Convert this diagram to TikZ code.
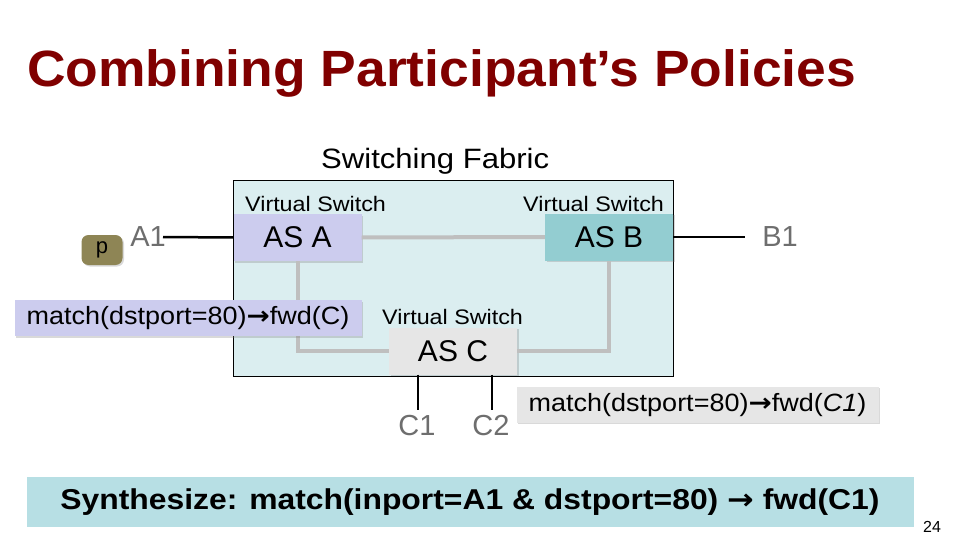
\documentclass[tikz,border=0pt]{standalone}
\usepackage{fontspec}
\setmainfont{Liberation Sans}
\newfontfamily\widefont{Liberation Sans}[FakeStretch=1.11]
\newfontfamily\rulefont{Liberation Sans}[FakeStretch=1.08]
\newfontfamily\titlefont{Liberation Sans}[FakeStretch=1.047]
\newfontfamily\arrowfont{DejaVu Sans}[FakeStretch=1.11]
\usetikzlibrary{shadows}
\definecolor{titlered}{RGB}{128,0,0}
\definecolor{fabricfill}{RGB}{219,238,240}
\definecolor{asafill}{RGB}{204,204,238}
\definecolor{asbfill}{RGB}{147,205,209}
\definecolor{ascfill}{RGB}{230,230,230}
\definecolor{pfill}{RGB}{142,133,85}
\definecolor{synthfill}{RGB}{183,223,228}
\definecolor{linkgray}{RGB}{191,191,191}
\definecolor{portgray}{RGB}{110,110,110}
\newcommand{\fsz}[1]{\fontsize{#1}{#1}\selectfont}
\newcommand{\rarr}{{\arrowfont\bfseries →}}
\begin{document}
\begin{tikzpicture}[x=1pt,y=-1pt,
  swbox/.style={minimum width=128pt, minimum height=47pt, inner sep=0pt, font=\fsz{30}, drop shadow={shadow xshift=1.5pt, shadow yshift=-1.5pt, opacity=0.3}},
  rulebox/.style={minimum height=36pt, inner sep=0pt, font=\rulefont\fsz{25}, drop shadow={shadow xshift=1.5pt, shadow yshift=-1.5pt, opacity=0.3}},
  vslabel/.style={anchor=base west, inner sep=0pt, font=\widefont\fsz{21}},
  port/.style={inner sep=0pt, text=portgray, font=\fsz{29}},
  link/.style={linkgray, line width=4pt},
  wire/.style={black, line width=2.5pt}]
\useasboundingbox (0,0) rectangle (960,540);
\node[anchor=base west, inner sep=0pt, text=titlered, font=\titlefont\bfseries\fsz{51}] (title) at (27,86.5) {Combining Participant’s Policies};
\node[anchor=base west, inner sep=0pt, font=\widefont\fsz{28}] (fablabel) at (321,169) {Switching Fabric};
\node[draw, fill=fabricfill, minimum width=440pt, minimum height=196pt, inner sep=0pt, line width=0.75pt] (fabric) at (453,278) {};
\node[vslabel] (vsA) at (245,211) {Virtual Switch};
\node[vslabel] (vsB) at (523,211) {Virtual Switch};
\node[vslabel] (vsC) at (382,324) {Virtual Switch};
\node[swbox, fill=asafill] (asA) at (297.5,237.5) {AS A};
\node[swbox, fill=asbfill] (asB) at (609,237) {AS B};
\node[swbox, fill=ascfill] (asC) at (453,351) {AS C};
\draw[link](asA.east) -- (asB.west);
\draw[link](asA.south) |- (asC.west);
\draw[link](asC.east) -| (asB.south);
\node[port] (A1) at (148,237) {A1};
\node[port] (B1) at (780,237) {B1};
\node[port] (C1) at (417,426) {C1};
\node[port] (C2) at (491,426) {C2};
\coordinate (a1end) at (163,237);
\coordinate (b1end) at (745,237);
\coordinate (c1end) at (418,410);
\coordinate (c2end) at (492,410);
\draw[wire](a1end) -- (asA.west);
\draw[wire](asB.east) -- (b1end);
\draw[wire](asC.south -| c1end) -- (c1end);
\draw[wire](asC.south -| c2end) -- (c2end);
\node[fill=pfill, rounded corners=7pt, minimum width=41pt, minimum height=30pt, inner sep=0pt, font=\fsz{22}, drop shadow={shadow xshift=1.5pt, shadow yshift=-1.5pt, opacity=0.3}] (pkt) at (102,250) {\raisebox{-6pt}{p}};
\node[rulebox, fill=asafill, minimum width=347pt] (ruleA) at (188,318) {match(dstport=80)\rarr fwd(C)};
\node[rulebox, fill=ascfill, minimum width=362pt] (ruleC) at (697.5,404.7) {match(dstport=80)\rarr fwd(\textit{C1})};
\node[fill=synthfill, minimum width=887pt, minimum height=50pt, inner sep=0pt, font=\widefont\bfseries\fsz{28.7}] (synth) at (470,501.7) {Synthesize: match(inport=A1 \& dstport=80) \rarr\ fwd(C1)};
\node[anchor=base west, inner sep=0pt, font=\fsz{16}] (pagenum) at (923,532) {24};
\end{tikzpicture}
\end{document}
